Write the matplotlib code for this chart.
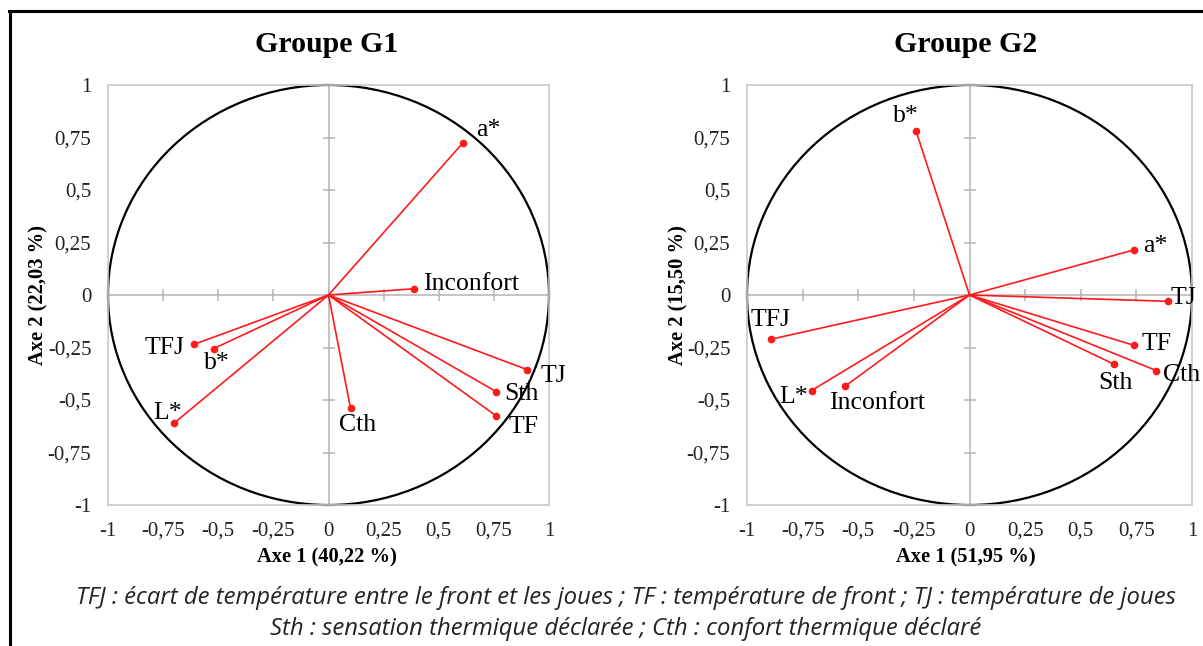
"""Cercles des corrélations, groupes G1 et G2."""

import matplotlib
matplotlib.use("Agg")
import matplotlib.pyplot as plt
from matplotlib.patches import Circle
from matplotlib.lines import Line2D

# Groupe G1
g1_labels = ["a*", "Inconfort", "TJ", "Sth", "TF", "Cth", "TFJ", "b*", "L*"]
g1_axe1 = [0.61, 0.39, 0.90, 0.76, 0.76, 0.10, -0.61, -0.52, -0.70]
g1_axe2 = [0.725, 0.03, -0.355, -0.46, -0.575, -0.54, -0.235, -0.255, -0.61]

# Groupe G2
g2_labels = ["b*", "a*", "TJ", "TFJ", "L*", "Inconfort", "TF", "Sth", "Cth"]
g2_axe1 = [-0.24, 0.74, 0.89, -0.89, -0.71, -0.56, 0.74, 0.65, 0.84]
g2_axe2 = [0.78, 0.215, -0.03, -0.21, -0.455, -0.435, -0.24, -0.33, -0.36]

ticks = [-1, -0.75, -0.5, -0.25, 0, 0.25, 0.5, 0.75, 1]
tick_labels = ["-1", "-0,75", "-0,5", "-0,25", "0", "0,25", "0,5", "0,75", "1"]

# label placement (pixel offsets, ha)
g1_offsets = {
    "a*": (25, 13, "center"), "Inconfort": (9, 5, "left"), "TJ": (14, -6, "left"),
    "Sth": (8, -2, "left"), "TF": (12, -11, "left"), "Cth": (7, -17, "center"),
    "TFJ": (-9, -4, "right"), "b*": (3, -14, "center"), "L*": (-7, 10, "center"),
}
g2_offsets = {
    "b*": (-10, 15, "center"), "a*": (9, 4, "left"), "TJ": (3, 3, "left"),
    "TFJ": (-1, 19, "center"), "L*": (-4, -6, "right"), "Inconfort": (32, -17, "center"),
    "TF": (7, 1, "left"), "Sth": (1, -19, "center"), "Cth": (7, -4, "left"),
}

serif = "Liberation Serif"
W, H = 1203, 646
fig = plt.figure(figsize=(W / 100, H / 100), dpi=100)


def cercle(rect, titre, xlab, ylab, xs, ys, labels, offsets, title_x, ylab_x):
    ax = fig.add_axes(rect)
    ax.set_xlim(-1, 1)
    ax.set_ylim(-1, 1)
    for s in ax.spines.values():
        s.set_color("#c8c8c8")
        s.set_linewidth(1.2)
    ax.set_xticks(ticks)
    ax.set_yticks(ticks)
    ax.set_xticklabels(tick_labels, family=serif, fontsize=15)
    ax.set_yticklabels(tick_labels, family=serif, fontsize=15)
    ax.tick_params(length=0, pad=12, colors="#222222")

    # axes through the origin with cross ticks
    ax.axhline(0, color="#b4b4b4", lw=1.1, zorder=1)
    ax.axvline(0, color="#b4b4b4", lw=1.1, zorder=1)
    ax.plot(ticks, [0] * len(ticks), ls="none", marker="|", ms=9, mew=1.1,
            color="#b4b4b4", zorder=1)
    ax.plot([0] * len(ticks), ticks, ls="none", marker="_", ms=9, mew=1.1,
            color="#b4b4b4", zorder=1)

    ax.add_patch(Circle((0, 0), 1, fill=False, ec="black", lw=1.6, zorder=2,
                        clip_on=False))

    for x, y, lab in zip(xs, ys, labels):
        ax.plot([0, x], [0, y], color="#ff1a1a", lw=1.2, zorder=3)
        ax.plot(x, y, "o", color="#ff1a1a", ms=4.5, zorder=4)
        dx, dy, ha = offsets[lab]
        ax.annotate(lab, (x, y), xytext=(dx, dy), textcoords="offset pixels",
                    ha=ha, va="center", family=serif, fontsize=18.5, zorder=5)

    fig.text(title_x / W, 1 - 44 / H, titre, ha="center", va="center",
             family=serif, weight="bold", fontsize=21.5)
    fig.text(title_x / W, 1 - 557 / H, xlab, ha="center", va="center",
             family=serif, weight="bold", fontsize=14.8)
    fig.text(ylab_x / W, 1 - 295 / H, ylab, ha="center", va="center",
             rotation=90, family=serif, weight="bold", fontsize=14.8)
    return ax


bottom = (H - 505) / H
height = 420 / H
cercle([108 / W, bottom, 441 / W, height], "Groupe G1", "Axe 1 (40,22 %)",
       "Axe 2 (22,03 %)", g1_axe1, g1_axe2, g1_labels, g1_offsets, 327, 38)
cercle([747 / W, bottom, 445 / W, height], "Groupe G2", "Axe 1 (51,95 %)",
       "Axe 2 (15,50 %)", g2_axe1, g2_axe2, g2_labels, g2_offsets, 966, 678)

cap1 = ("TFJ : écart de température entre le front et les joues ; "
        "TF : température de front ; TJ : température de joues")
cap2 = "Sth : sensation thermique déclarée ; Cth : confort thermique déclaré"
fig.text(626 / W, 1 - 598 / H, cap1, ha="center", va="center",
         family="Open Sans", style="italic", fontsize=17.2, color="#222222")
fig.text(626 / W, 1 - 629 / H, cap2, ha="center", va="center",
         family="Open Sans", style="italic", fontsize=17.2, color="#222222")

# outer frame (top and left edges visible)
fig.add_artist(Line2D([10 / W, 10 / W], [0, 1 - 11 / H], color="black", lw=2.2))
fig.add_artist(Line2D([9 / W, 1], [1 - 11 / H, 1 - 11 / H], color="black", lw=2.2))

fig.savefig("out.png", dpi=100)
